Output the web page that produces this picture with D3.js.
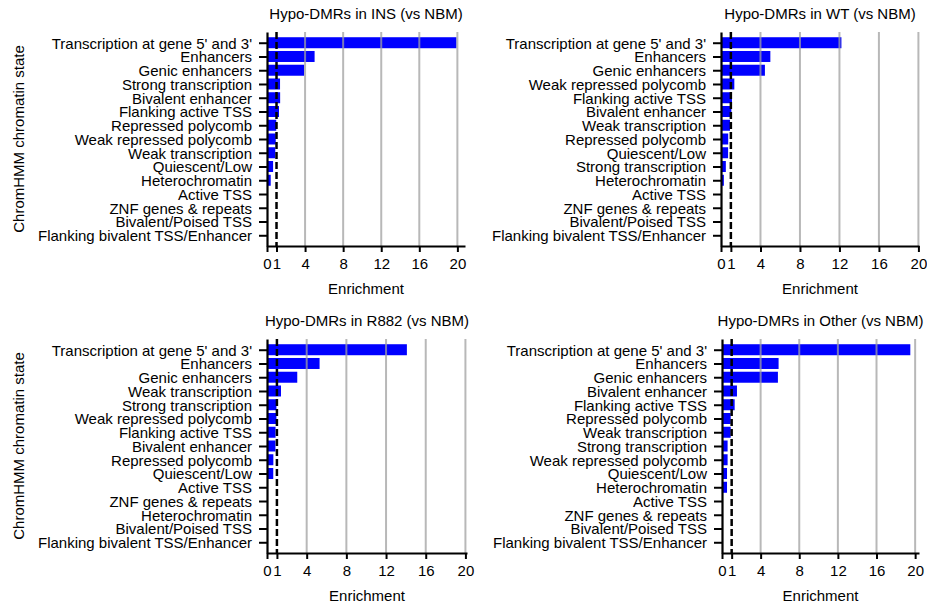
<!DOCTYPE html>
<html>
<head>
<meta charset="utf-8">
<script src="https://cdn.jsdelivr.net/npm/d3@7.9.0/dist/d3.min.js"></script>
<style>
  body { margin: 0; background: #fff; }
  svg { display: block; font-family: "Liberation Sans", Arial, sans-serif; }
</style>
</head>
<body>
<div id="chart"></div>
<script>
// Data

const insStates = ["Transcription at gene 5' and 3'", "Enhancers", "Genic enhancers",
  "Strong transcription", "Bivalent enhancer", "Flanking active TSS", "Repressed polycomb",
  "Weak repressed polycomb", "Weak transcription", "Quiescent/Low", "Heterochromatin",
  "Active TSS", "ZNF genes & repeats", "Bivalent/Poised TSS", "Flanking bivalent TSS/Enhancer"];
const insValues = [19.9, 5.0, 3.9, 1.37, 1.38, 1.26, 0.97, 0.92, 0.87, 0.64, 0.39, 0, 0, 0, 0];

const wtStates = ["Transcription at gene 5' and 3'", "Enhancers", "Genic enhancers",
  "Weak repressed polycomb", "Flanking active TSS", "Bivalent enhancer", "Weak transcription",
  "Repressed polycomb", "Quiescent/Low", "Strong transcription", "Heterochromatin",
  "Active TSS", "ZNF genes & repeats", "Bivalent/Poised TSS", "Flanking bivalent TSS/Enhancer"];
const wtValues = [12.2, 5.0, 4.45, 1.35, 1.11, 1.05, 0.91, 0.73, 0.72, 0.49, 0.29, 0, 0, 0, 0];

const r882States = ["Transcription at gene 5' and 3'", "Enhancers", "Genic enhancers",
  "Weak transcription", "Strong transcription", "Weak repressed polycomb", "Flanking active TSS",
  "Bivalent enhancer", "Repressed polycomb", "Quiescent/Low", "Active TSS",
  "ZNF genes & repeats", "Heterochromatin", "Bivalent/Poised TSS", "Flanking bivalent TSS/Enhancer"];
const r882Values = [14.1, 5.3, 3.05, 1.41, 0.95, 0.95, 0.86, 0.85, 0.64, 0.63, 0, 0, 0, 0, 0];

const otherStates = ["Transcription at gene 5' and 3'", "Enhancers", "Genic enhancers",
  "Bivalent enhancer", "Flanking active TSS", "Repressed polycomb", "Weak transcription",
  "Strong transcription", "Weak repressed polycomb", "Quiescent/Low", "Heterochromatin",
  "Active TSS", "ZNF genes & repeats", "Bivalent/Poised TSS", "Flanking bivalent TSS/Enhancer"];
const otherValues = [19.5, 5.86, 5.79, 1.55, 1.31, 0.9, 0.9, 0.58, 0.58, 0.52, 0.52, 0, 0, 0, 0];

const xTicks = [0, 1, 4, 8, 12, 16, 20];
const gridTicks = [4, 8, 12, 16, 20];
const refLine = 1;


// Functions

/*
 * Draws one horizontal enrichment barplot
 */
function renderPanel(svg, opts) {
  const { title, states, values, left, right, top, bottom, xMax, yTitle } = opts;

  const g = svg.append("g");

  const x = d3.scaleLinear().domain([0, xMax]).range([left, right]);
  const y = d3.scalePoint().domain(states).range([top, bottom]).padding(0.78);
  const barH = y.step() * 0.8;

  // bars
  g.selectAll(".bar")
    .data(states.map((s, i) => ({ state: s, value: values[i] })))
    .enter()
    .append("rect")
    .attr("class", "bar")
    .attr("x", x(0))
    .attr("y", d => y(d.state) - barH / 2)
    .attr("width", d => x(d.value) - x(0))
    .attr("height", barH)
    .attr("fill", "#0000ff");

  // grey grid lines (drawn over the bars)
  g.selectAll(".grid")
    .data(gridTicks)
    .enter()
    .append("line")
    .attr("class", "grid")
    .attr("x1", d => x(d))
    .attr("x2", d => x(d))
    .attr("y1", top)
    .attr("y2", bottom)
    .attr("stroke", "#a0a0a0")
    .attr("stroke-opacity", 0.75)
    .attr("stroke-width", 2);

  // dashed reference at 1
  g.append("line")
    .attr("x1", x(refLine))
    .attr("x2", x(refLine))
    .attr("y1", top)
    .attr("y2", bottom)
    .attr("stroke", "#000")
    .attr("stroke-width", 2.5)
    .attr("stroke-dasharray", "7,3");

  // y axis
  const yAxis = g.append("g")
    .attr("transform", `translate(${left},0)`)
    .call(d3.axisLeft(y).tickSize(8).tickSizeOuter(0).tickPadding(7));
  yAxis.select(".domain").attr("stroke-width", 2.2);
  yAxis.selectAll(".tick line").attr("stroke-width", 2);
  yAxis.selectAll("text")
    .style("font-size", "15px")
    .attr("fill", "#000")
    .attr("dy", "0.36em");

  // x axis
  const xAxis = g.append("g")
    .attr("transform", `translate(0,${bottom})`)
    .call(d3.axisBottom(x).tickValues(xTicks).tickSize(6).tickSizeOuter(0).tickPadding(6));
  xAxis.select(".domain").attr("stroke-width", 2.2);
  xAxis.selectAll(".tick line").attr("stroke-width", 2);
  xAxis.selectAll("text")
    .style("font-size", "15px")
    .attr("fill", "#000");

  // titles
  g.append("text")
    .attr("x", (left + right) / 2)
    .attr("y", top - 13)
    .attr("text-anchor", "middle")
    .style("font-size", "15px")
    .text(title);

  g.append("text")
    .attr("x", (left + right) / 2)
    .attr("y", bottom + 48)
    .attr("text-anchor", "middle")
    .style("font-size", "15px")
    .text("Enrichment");

  if (yTitle) {
    g.append("text")
      .attr("transform", `translate(24,${(top + bottom) / 2}) rotate(-90)`)
      .attr("text-anchor", "middle")
      .style("font-size", "15px")
      .text(yTitle);
  }
}


const svg = d3.select("#chart")
  .append("svg")
  .attr("width", 927)
  .attr("height", 608);

renderPanel(svg, { title: "Hypo-DMRs in INS (vs NBM)", states: insStates, values: insValues,
  left: 267, right: 465, top: 32, bottom: 246, xMax: 20.8, yTitle: "ChromHMM chromatin state" });
renderPanel(svg, { title: "Hypo-DMRs in WT (vs NBM)", states: wtStates, values: wtValues,
  left: 721, right: 919, top: 32, bottom: 246, xMax: 20.06 });
renderPanel(svg, { title: "Hypo-DMRs in R882 (vs NBM)", states: r882States, values: r882Values,
  left: 267, right: 467, top: 339, bottom: 553, xMax: 20.16, yTitle: "ChromHMM chromatin state" });
renderPanel(svg, { title: "Hypo-DMRs in Other (vs NBM)", states: otherStates, values: otherValues,
  left: 722, right: 919, top: 339, bottom: 553, xMax: 20.4 });
</script>
</body>
</html>
